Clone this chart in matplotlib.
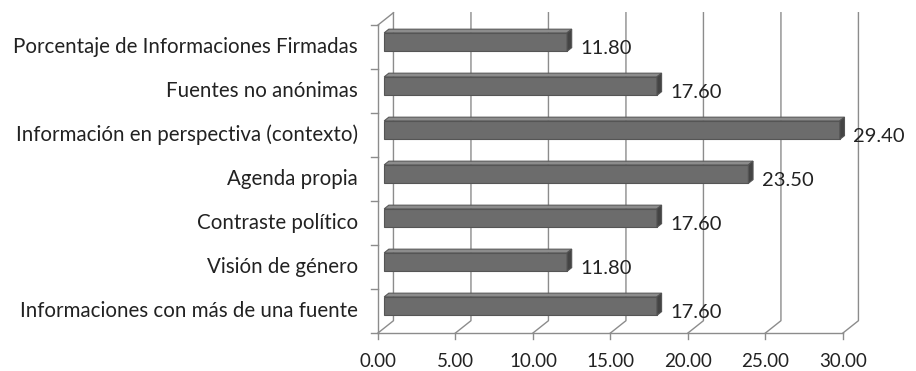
import matplotlib.pyplot as plt
from matplotlib.patches import Polygon

plt.rcParams['font.family'] = ['Lato', 'DejaVu Sans']

# rows listed top to bottom as they appear in the chart
categories = [
    'Porcentaje de Informaciones Firmadas',
    'Fuentes no anónimas',
    'Información en perspectiva (contexto)',
    'Agenda propia',
    'Contraste político',
    'Visión de género',
    'Informaciones con más de una fuente',
]
values = [11.80, 17.60, 29.40, 23.50, 17.60, 11.80, 17.60]
ticks = [0, 5, 10, 15, 20, 25, 30]
tick_labels = ['%.2f' % t for t in ticks]

# pseudo-3d: z=0 is the front plane, z=1 the back wall
DX, DY = 1.0, 0.28
Z0, Z1 = 0.40, 0.70
HALF = 0.21
LINE = '#8c8c8c'
TEXT = '#222222'


def proj(x, y, z):
    return x + z * DX, y + z * DY


fig = plt.figure(figsize=(9.16, 3.71), dpi=100)
ax = fig.add_axes([0.3957, 0.0668, 0.5753, 0.925])
ax.set_xlim(-1, 33)
ax.set_ylim(-0.8, 7.0)
ax.axis('off')

n = len(categories)
ymin, ymax = -0.5, n - 0.5

# back wall gridlines and their floor diagonals
for t, tl in zip(ticks, tick_labels):
    xs, ys = zip(proj(t, ymax, 1), proj(t, ymin, 1), proj(t, ymin, 0))
    ax.plot(xs, ys, color=LINE, lw=1.0, zorder=1)
    ax.plot([t, t], [ymin, ymin - 0.13], color=LINE, lw=1.0, zorder=1)
    ax.annotate(tl, (t, ymin), xytext=(0, -24.5), textcoords='offset points',
                ha='center', va='baseline', fontsize=13.5, color=TEXT)

# front floor edge, left axis and top edge of left wall
ax.plot([0, ticks[-1]], [ymin, ymin], color=LINE, lw=1.0, zorder=1)
ax.plot([0, 0], [ymin, ymax], color=LINE, lw=1.0, zorder=1)
xs, ys = zip(proj(0, ymax, 0), proj(0, ymax, 1))
ax.plot(xs, ys, color=LINE, lw=1.0, zorder=1)
for k in range(n + 1):
    yk = ymin + k
    ax.plot([0, -0.45], [yk, yk], color=LINE, lw=1.0, zorder=1)

for i, (label, v) in enumerate(zip(categories, values)):
    y = n - 1 - i
    front = [proj(0, y - HALF, Z0), proj(v, y - HALF, Z0),
             proj(v, y + HALF, Z0), proj(0, y + HALF, Z0)]
    top = [proj(0, y + HALF, Z0), proj(v, y + HALF, Z0),
           proj(v, y + HALF, Z1), proj(0, y + HALF, Z1)]
    end = [proj(v, y - HALF, Z0), proj(v, y - HALF, Z1),
           proj(v, y + HALF, Z1), proj(v, y + HALF, Z0)]
    ax.add_patch(Polygon(top, closed=True, fc='#8c8c8c', ec='#5a5a5a', lw=0.8, zorder=3))
    ax.add_patch(Polygon(front, closed=True, fc='#6c6c6c', ec='#555555', lw=0.8, zorder=3))
    ax.add_patch(Polygon(end, closed=True, fc='#444444', ec='#555555', lw=0.8, zorder=3))

    ax.annotate('%.2f' % v, (v, y), xytext=(14, -1), textcoords='offset points',
                ha='left', va='center', fontsize=14.5, color=TEXT, zorder=4)
    ax.annotate(label, (0, y), xytext=(-14.5, 0), textcoords='offset points',
                ha='right', va='center', fontsize=14.8, color=TEXT)

fig.savefig('out.png', dpi=100, facecolor='white')
